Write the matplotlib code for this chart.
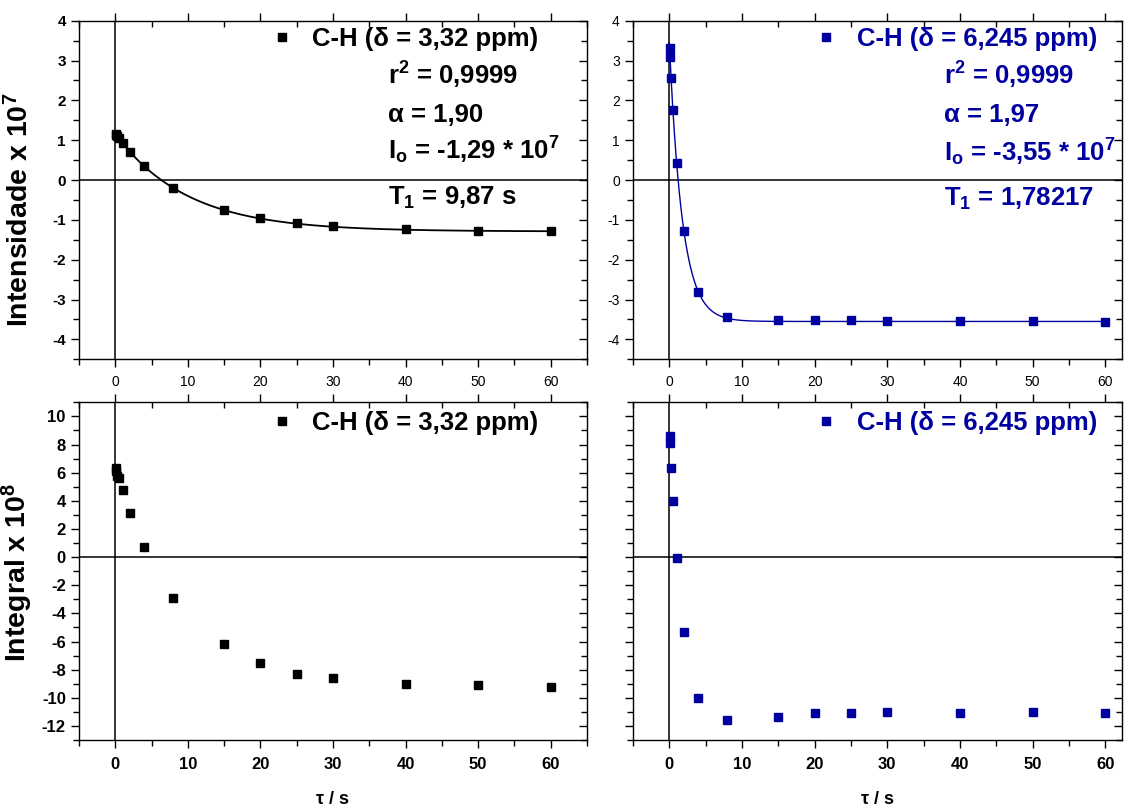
import numpy as np
import matplotlib
matplotlib.use("Agg")
import matplotlib.pyplot as plt
from matplotlib.ticker import MultipleLocator

plt.rcParams['font.family'] = ['Liberation Sans', 'DejaVu Sans']
plt.rcParams['mathtext.fontset'] = 'custom'
plt.rcParams['mathtext.rm'] = 'Liberation Sans'
plt.rcParams['mathtext.bf'] = 'Liberation Sans:bold'
plt.rcParams['mathtext.it'] = 'Liberation Sans:italic'
plt.rcParams['axes.unicode_minus'] = False

# ---------------- data ----------------
tau = [0.05, 0.1, 0.25, 0.5, 1, 2, 4, 8, 15, 20, 25, 30, 40, 50, 60]

# Intensity x 1e7
int_332 = [1.15, 1.13, 1.10, 1.05, 0.93, 0.70, 0.36, -0.21, -0.75, -0.96, -1.07, -1.15, -1.23, -1.27, -1.28]
int_6245 = [3.32, 3.08, 2.55, 1.75, 0.42, -1.27, -2.80, -3.45, -3.52, -3.51, -3.51, -3.54, -3.54, -3.54, -3.56]

# Integral x 1e8
integ_332 = [6.3, 6.15, 5.75, 5.6, 4.75, 3.15, 0.75, -2.9, -6.2, -7.5, -8.3, -8.6, -9.0, -9.1, -9.2]
integ_6245 = [8.6, 8.1, 6.3, 4.0, -0.05, -5.3, -10.0, -11.55, -11.4, -11.05, -11.05, -11.0, -11.05, -11.0, -11.05]

# fit parameters (as printed on the chart)
fit_332 = dict(I0=-1.29, alpha=1.90, T1=9.87)
fit_6245 = dict(I0=-3.55, alpha=1.97, T1=1.78217)

label_332 = 'C-H (δ = 3,32 ppm)'
label_6245 = 'C-H (δ = 6,245 ppm)'
stats_332 = [r'r$^{\mathbf{2}}$ = 0,9999', 'α = 1,90',
             r'I$_{\mathbf{o}}$ = -1,29 * 10$^{\mathbf{7}}$', r'T$_{\mathbf{1}}$ = 9,87 s']
stats_6245 = [r'r$^{\mathbf{2}}$ = 0,9999', 'α = 1,97',
              r'I$_{\mathbf{o}}$ = -3,55 * 10$^{\mathbf{7}}$', r'T$_{\mathbf{1}}$ = 1,78217']

BLUE = '#0000A0'
W, H = 1134, 808
fig = plt.figure(figsize=(W / 100, H / 100), dpi=100)


def rect(l, r, t, b):
    return [l / W, 1 - b / H, (r - l) / W, (b - t) / H]


ax_tl = fig.add_axes(rect(79, 587, 20.7, 359.3))
ax_tr = fig.add_axes(rect(633, 1122, 20.7, 359.3))
ax_bl = fig.add_axes(rect(79, 587, 402.3, 740))
ax_br = fig.add_axes(rect(633, 1122, 402.3, 740))
axes = (ax_tl, ax_tr, ax_bl, ax_br)


def model(t, I0, alpha, T1):
    return I0 * (1 - alpha * np.exp(-t / T1))


tfit = np.linspace(0, 60, 800)

for ax in axes:
    ax.axhline(0, color='black', lw=1.1, zorder=1)
    ax.axvline(0, color='black', lw=1.1, zorder=1)
    ax.xaxis.set_major_locator(MultipleLocator(10))
    ax.xaxis.set_minor_locator(MultipleLocator(5))
    for s in ax.spines.values():
        s.set_linewidth(1)

# top-left
ax_tl.plot(tfit, model(tfit, **fit_332), color='black', lw=1.3, zorder=2)
ax_tl.plot(tau, int_332, 's', color='black', ms=6, zorder=3, label=label_332)
# top-right
ax_tr.plot(tfit, model(tfit, **fit_6245), color=BLUE, lw=1.0, zorder=2)
ax_tr.plot(tau, int_6245, 's', color=BLUE, ms=6, zorder=3, label=label_6245)
# bottom
ax_bl.plot(tau, integ_332, 's', color='black', ms=6, zorder=3, label=label_332)
ax_br.plot(tau, integ_6245, 's', color=BLUE, ms=6, zorder=3, label=label_6245)

for ax in (ax_tl, ax_bl):
    ax.set_xlim(-5, 65)
for ax in (ax_tr, ax_br):
    ax.set_xlim(-5, 62.3)
for ax in (ax_tl, ax_tr):
    ax.set_ylim(-4.5, 4)
    ax.yaxis.set_major_locator(MultipleLocator(1))
    ax.yaxis.set_minor_locator(MultipleLocator(0.5))
for ax in (ax_bl, ax_br):
    ax.set_ylim(-13, 11)
    ax.yaxis.set_major_locator(MultipleLocator(2))
    ax.yaxis.set_minor_locator(MultipleLocator(1))

for ax in axes:
    ax.tick_params(which='both', direction='out', top=True, right=True,
                   labeltop=False, labelright=False, width=1)
    ax.tick_params(which='major', length=6)
    ax.tick_params(which='minor', length=4)

# top/right ticks point inward
for ax in axes:
    for t in ax.xaxis.get_major_ticks() + ax.xaxis.get_minor_ticks():
        t.tick2line.set_marker(3)  # TICKDOWN
    for t in ax.yaxis.get_major_ticks() + ax.yaxis.get_minor_ticks():
        t.tick2line.set_marker(0)  # TICKLEFT

# tick label styles
ax_tl.tick_params(axis='y', labelsize=11)
for lab in ax_tl.get_yticklabels():
    lab.set_fontweight('bold')
ax_tl.tick_params(axis='x', labelsize=10, pad=5)
ax_tr.tick_params(axis='both', labelsize=10)
ax_tr.tick_params(axis='x', pad=5)
ax_bl.tick_params(axis='y', labelsize=12)
for lab in ax_bl.get_yticklabels():
    lab.set_fontweight('bold')
for ax in (ax_bl, ax_br):
    ax.tick_params(axis='x', labelsize=12, pad=6)
    for lab in ax.get_xticklabels():
        lab.set_fontweight('bold')
ax_br.tick_params(axis='y', labelleft=False)

# axis labels
ax_tl.set_ylabel(r'Intensidade x 10$^{\mathbf{7}}$', fontsize=20.5, fontweight='bold')
ax_tl.yaxis.set_label_coords(-0.088, 0.44)
ax_bl.set_ylabel(r'Integral x 10$^{\mathbf{8}}$', fontsize=20.5, fontweight='bold')
ax_bl.yaxis.set_label_coords(-0.086, 0.497)
for ax in (ax_bl, ax_br):
    ax.set_xlabel('τ / s', fontsize=13, fontweight='bold', labelpad=14)

# legends
fs_leg = 18.5
for ax, col, y in ((ax_tl, 'black', 0.945), (ax_tr, BLUE, 0.945),
                   (ax_bl, 'black', 0.94), (ax_br, BLUE, 0.94)):
    x0 = 0.374 if ax in (ax_tl, ax_bl) else 0.369
    leg = ax.legend(loc='center left', bbox_to_anchor=(x0, y), frameon=False,
                    prop={'weight': 'bold', 'size': fs_leg}, borderpad=0, borderaxespad=0,
                    handlelength=1.0, handletextpad=0.68, numpoints=1)
    for t in leg.get_texts():
        t.set_color(col)

# stats text
ys_l = [0.810, 0.702, 0.589, 0.456]
for s, y in zip(stats_332, ys_l):
    ax_tl.text(0.608, y, s, transform=ax_tl.transAxes, fontsize=fs_leg,
               fontweight='bold', color='black', va='baseline', ha='left')
ys_r = [0.810, 0.702, 0.584, 0.452]
for s, y in zip(stats_6245, ys_r):
    ax_tr.text(0.635, y, s, transform=ax_tr.transAxes, fontsize=fs_leg,
               fontweight='bold', color=BLUE, va='baseline', ha='left')

fig.savefig('out.png', dpi=100)
